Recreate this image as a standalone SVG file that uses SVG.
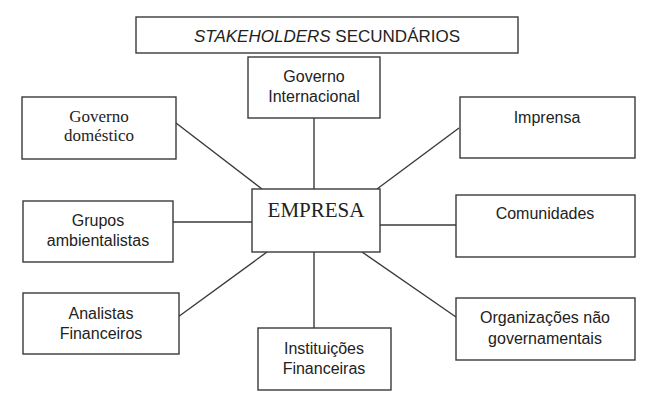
<svg xmlns="http://www.w3.org/2000/svg" width="647" height="407" viewBox="0 0 647 407">
<style>
.box{fill:#fff;stroke:#3a3a3a;stroke-width:1.4}
.t{font-family:"Liberation Sans",Arial,sans-serif;font-size:16px;fill:#222;text-anchor:middle}
.s{font-family:"Liberation Serif","Times New Roman",serif;fill:#222;text-anchor:middle}
.ln{stroke:#3a3a3a;stroke-width:1.4;fill:none}
</style>
<rect width="647" height="407" fill="#fff"/>
<g id="connectors">
<line class="ln" x1="176" y1="123" x2="262" y2="189"/>
<line class="ln" x1="314" y1="118" x2="314" y2="189"/>
<line class="ln" x1="459" y1="128" x2="377" y2="189"/>
<line class="ln" x1="173" y1="222" x2="252" y2="222"/>
<line class="ln" x1="380" y1="225" x2="456" y2="225"/>
<line class="ln" x1="178" y1="317" x2="267" y2="252"/>
<line class="ln" x1="314" y1="252" x2="314" y2="328"/>
<line class="ln" x1="456" y1="317" x2="362" y2="252"/>
</g>
<g id="title">
<rect class="box" x="136" y="17" width="382" height="36"/>
<text class="t" x="327" y="42" style="font-size:17px"><tspan font-style="italic">STAKEHOLDERS</tspan> SECUNDÁRIOS</text>
</g>
<g id="governo-internacional">
<rect class="box" x="248" y="57" width="132" height="61"/>
<text class="t" x="314" y="82">Governo</text>
<text class="t" x="314" y="102">Internacional</text>
</g>
<g id="governo-domestico">
<rect class="box" x="22" y="97" width="154" height="62"/>
<text class="s" x="99" y="122" font-size="17">Governo</text>
<text class="s" x="99" y="141" font-size="17">doméstico</text>
</g>
<g id="imprensa">
<rect class="box" x="460" y="97" width="175" height="61"/>
<text class="t" x="547" y="123">Imprensa</text>
</g>
<g id="empresa">
<rect class="box" x="252" y="189" width="128" height="63"/>
<text class="s" x="316" y="217" font-size="21">EMPRESA</text>
</g>
<g id="grupos-ambientalistas">
<rect class="box" x="23" y="201" width="150" height="61"/>
<text class="t" x="98" y="226">Grupos</text>
<text class="t" x="98" y="246">ambientalistas</text>
</g>
<g id="comunidades">
<rect class="box" x="456" y="195" width="179" height="62"/>
<text class="t" x="545" y="219">Comunidades</text>
</g>
<g id="analistas-financeiros">
<rect class="box" x="23" y="293" width="156" height="61"/>
<text class="t" x="101" y="319">Analistas</text>
<text class="t" x="101" y="339">Financeiros</text>
</g>
<g id="instituicoes-financeiras">
<rect class="box" x="258" y="328" width="133" height="62"/>
<text class="t" x="324" y="354">Instituições</text>
<text class="t" x="324" y="374">Financeiras</text>
</g>
<g id="ong">
<rect class="box" x="456" y="298" width="179" height="62"/>
<text class="t" x="545" y="323">Organizações não</text>
<text class="t" x="545" y="344">governamentais</text>
</g>
</svg>
